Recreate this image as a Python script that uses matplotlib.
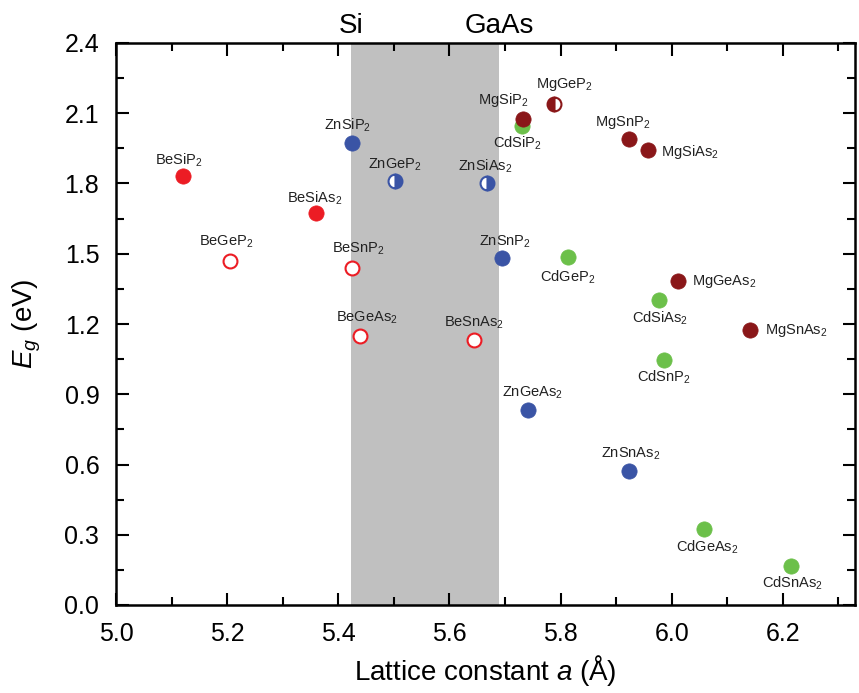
#!/usr/bin/env python3
"""
Band gap vs lattice constant for II-IV-V2 chalcopyrites, with the Si-GaAs window shaded.
"""
import matplotlib
matplotlib.use("Agg")
import matplotlib.pyplot as plt
from matplotlib.ticker import MultipleLocator, AutoMinorLocator
import matplotlib.transforms as mtransforms

plt.rcParams["font.family"] = ["Liberation Sans", "DejaVu Sans"]
plt.rcParams["mathtext.fontset"] = "custom"
plt.rcParams["mathtext.rm"] = "Liberation Sans"
plt.rcParams["mathtext.it"] = "Liberation Sans:italic"

# --- data (lattice constant in A, gap in eV); kind: filled / open / half ---
be_names = ["BeSiP2", "BeSiAs2", "BeGeP2", "BeSnP2", "BeGeAs2", "BeSnAs2"]
be_a = [5.121, 5.360, 5.205, 5.425, 5.440, 5.645]
be_eg = [1.834, 1.672, 1.470, 1.440, 1.150, 1.130]
be_kind = ["filled", "filled", "open", "open", "open", "open"]

zn_names = ["ZnSiP2", "ZnGeP2", "ZnSiAs2", "ZnSnP2", "ZnGeAs2", "ZnSnAs2"]
zn_a = [5.425, 5.503, 5.667, 5.695, 5.742, 5.923]
zn_eg = [1.975, 1.810, 1.800, 1.480, 0.834, 0.574]
zn_kind = ["filled", "half", "half", "filled", "filled", "filled"]

cd_names = ["CdSiP2", "CdGeP2", "CdSiAs2", "CdSnP2", "CdGeAs2", "CdSnAs2"]
cd_a = [5.730, 5.813, 5.978, 5.987, 6.058, 6.214]
cd_eg = [2.045, 1.485, 1.302, 1.045, 0.325, 0.166]
cd_kind = ["filled"] * 6

mg_names = ["MgSiP2", "MgGeP2", "MgSnP2", "MgSiAs2", "MgGeAs2", "MgSnAs2"]
mg_a = [5.733, 5.789, 5.924, 5.957, 6.011, 6.141]
mg_eg = [2.077, 2.140, 1.990, 1.945, 1.383, 1.174]
mg_kind = ["filled", "half", "filled", "filled", "filled", "filled"]

si_a, gaas_a = 5.423, 5.690

# label offsets in pixels (dx, dy) from the marker centre
label_off = {
    "BeSiP2": (-4, 15), "BeSiAs2": (-1, 15), "BeGeP2": (-4, 19),
    "BeSnP2": (6, 19), "BeGeAs2": (6, 18), "BeSnAs2": (0, 18),
    "ZnSiP2": (-5, 17), "ZnGeP2": (-1, 16), "ZnSiAs2": (-1, 17),
    "ZnSnP2": (3, 17), "ZnGeAs2": (4, 17), "ZnSnAs2": (2, 17),
    "CdSiP2": (-4, -17), "CdGeP2": (0, -20), "CdSiAs2": (1, -18),
    "CdSnP2": (-1, -17), "CdGeAs2": (3, -18), "CdSnAs2": (2, -17),
    "MgSiP2": (-20, 19), "MgGeP2": (10, 19), "MgSnP2": (-7, 17),
    "MgSiAs2": (42, -2), "MgGeAs2": (46, 0), "MgSnAs2": (46, 0),
}

groups = [
    (be_names, be_a, be_eg, be_kind, "#ec1c24", "right"),
    (zn_names, zn_a, zn_eg, zn_kind, "#3a54a5", "right"),
    (cd_names, cd_a, cd_eg, cd_kind, "#6cc04a", "right"),
    (mg_names, mg_a, mg_eg, mg_kind, "#8a1719", "left"),
]

fig = plt.figure(figsize=(8.59, 6.93), dpi=100)
ax = fig.add_axes([116 / 859, 88 / 693, 739 / 859, 562 / 693])

ax.axvspan(si_a, gaas_a, color="#c0c0c0", lw=0, zorder=0)

for names, xs, ys, kinds, col, half_side in groups:
    for n, x, y, k in zip(names, xs, ys, kinds):
        if k == "filled":
            ax.plot(x, y, "o", ms=11, mfc=col, mec=col, mew=0.5, zorder=3)
        elif k == "open":
            ax.plot(x, y, "o", ms=10, mfc="white", mec=col, mew=1.5, zorder=3)
        else:
            ax.plot(x, y, "o", ms=10, fillstyle=half_side, mfc=col,
                    mfcalt="white", mec=col, mew=1.5, zorder=3)
        dx, dy = label_off[n]
        ax.annotate(n[:-1] + "$_2$", (x, y), xytext=(dx, dy),
                    textcoords="offset pixels", ha="center", va="center",
                    fontsize=10.5, color="#222222", zorder=4)

ax.set_xlim(5.0, 6.33)
ax.set_ylim(0, 2.4)
ax.xaxis.set_major_locator(MultipleLocator(0.2))
ax.xaxis.set_minor_locator(AutoMinorLocator(2))
ax.yaxis.set_major_locator(MultipleLocator(0.3))
ax.yaxis.set_minor_locator(AutoMinorLocator(2))
ax.xaxis.set_major_formatter(matplotlib.ticker.FormatStrFormatter("%.1f"))
ax.yaxis.set_major_formatter(matplotlib.ticker.FormatStrFormatter("%.1f"))

ax.tick_params(which="both", direction="in", top=True, right=True, width=1.5,
               labelsize=18, pad=12)
ax.tick_params(which="major", length=9)
ax.tick_params(which="minor", length=5.5)
for s in ax.spines.values():
    s.set_linewidth(1.8)

ax.set_xlabel("Lattice constant $a$ (Å)", fontsize=20)
ax.set_ylabel("$E_g$ (eV)", fontsize=20)
ax.xaxis.label.set_va("center")
ax.yaxis.label.set_va("center")
ax.xaxis.set_label_coords(0.5, -0.117)
ax.yaxis.set_label_coords(-0.120, 0.5)

trans = mtransforms.blended_transform_factory(ax.transData, ax.transAxes)
ax.text(si_a, 1.018, "Si", transform=trans, ha="center", va="baseline", fontsize=20)
ax.text(gaas_a, 1.018, "GaAs", transform=trans, ha="center", va="baseline", fontsize=20)

fig.savefig("out.png", dpi=100)
